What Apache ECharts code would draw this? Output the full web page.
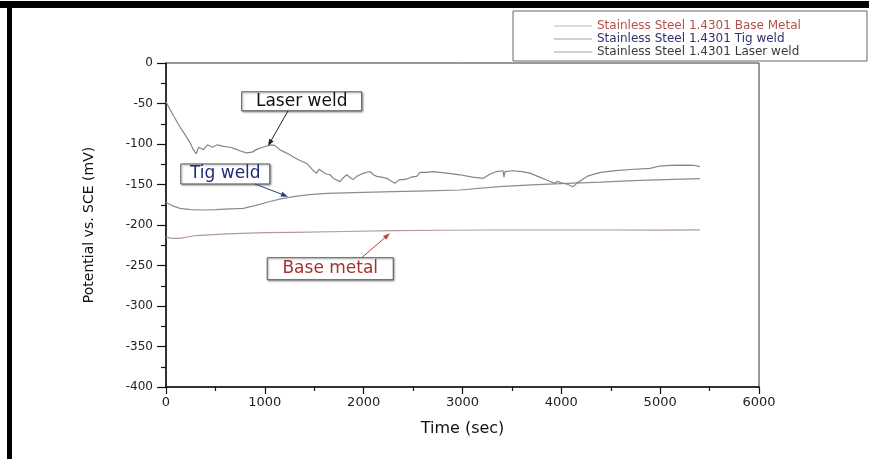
<!DOCTYPE html>
<html>
<head>
<meta charset="utf-8">
<script src="https://cdn.jsdelivr.net/npm/echarts@6/dist/echarts.min.js"></script>
<style>
html,body{margin:0;padding:0;background:#fff;}
#chart{width:869px;height:459px;}
</style>
</head>
<body>
<div id="chart"></div>
<script>
// ---- data (time in sec, potential in mV) ----
var seriesNames = ['Stainless Steel 1.4301 Base Metal', 'Stainless Steel 1.4301 Tig weld', 'Stainless Steel 1.4301 Laser weld'];

var baseTime = [0, 60, 142, 300, 614, 1000, 1288, 1800, 2300, 2800, 3312, 3900, 4492, 5000, 5402];
var baseValue = [-215, -216.5, -216.5, -213, -211, -209.5, -209, -208, -207, -206.5, -206.2, -206.2, -206.2, -206.4, -206];

var tigTime = [0, 60, 142, 250, 377, 500, 650, 782, 900, 1052, 1150, 1288, 1450, 1626, 2000, 2300, 2650, 2975, 3373, 3700, 4054, 4400, 4728, 5050, 5402];
var tigValue = [-172, -176, -179.4, -181, -181.5, -181, -180, -179.4, -176, -171, -168, -165, -162.5, -160.9, -159.8, -158.9, -157.8, -156.8, -152.7, -150.5, -148.5, -147, -145.3, -144, -142.8];

var laserTime = [0, 30, 80, 142, 200, 250, 276, 305, 330, 344, 380, 420, 470, 520, 580, 648, 700, 760, 816, 870, 930, 980, 1019, 1070, 1103, 1150, 1200, 1250, 1288, 1350, 1424, 1470, 1500, 1525, 1550, 1580, 1620, 1659, 1700, 1760, 1800, 1828, 1860, 1892, 1930, 1963, 2000, 2064, 2100, 2132, 2180, 2233, 2280, 2317, 2360, 2401, 2440, 2480, 2536, 2570, 2637, 2705, 2840, 2975, 3100, 3211, 3280, 3346, 3410, 3420, 3430, 3514, 3600, 3683, 3760, 3852, 3900, 3936, 3960, 4000, 4054, 4121, 4160, 4206, 4260, 4323, 4400, 4550, 4700, 4897, 4998, 5100, 5234, 5350, 5402];
var laserValue = [-48, -55, -66, -79, -90, -100, -107, -112, -104, -103, -107, -101, -104, -101, -103, -104, -106, -109, -111, -110, -106, -104, -102.5, -101, -102, -107, -110, -113, -116, -120, -124, -130, -134, -136, -131, -134, -137, -138, -143, -146.5, -141, -138, -141, -144, -140, -138, -136, -134, -138, -140, -141, -142.4, -146, -148.5, -144, -144, -143, -141, -140, -135, -135, -134, -136, -138, -141, -142.4, -137, -134, -133, -141, -134, -133, -134, -136, -140, -144.4, -147, -148.5, -146, -148, -149.4, -152.7, -148, -144.4, -140, -137.5, -135, -132.9, -131.5, -130, -127.2, -126.5, -126, -126.5, -128];

var xTicks = [0, 1000, 2000, 3000, 4000, 5000, 6000];
var yTicks = [0, -50, -100, -150, -200, -250, -300, -350, -400];

var annotationTexts = ['Laser weld', 'Tig weld', 'Base metal'];
// ---- end data ----

function pairs(t, v) { return t.map(function (x, i) { return [x, v[i]]; }); }

var FONT = 'DejaVu Sans';
var chart = echarts.init(document.getElementById('chart'), null, { renderer: 'canvas' });

var seriesColors = ['#b39c98', '#8c8c92', '#858585'];
var legendLineColors = ['#d0b2ae', '#a0a0a6', '#a4a4a4'];
var legendTextColors = ['#b3504b', '#2c3170', '#3a3a3a'];

var option = {
  animation: false,
  backgroundColor: '#ffffff',
  textStyle: { fontFamily: FONT },
  grid: { left: 166, right: 110, top: 63, bottom: 72, show: true, borderColor: '#333', borderWidth: 1, backgroundColor: 'transparent' },
  legend: {
    left: 549, top: 15, orient: 'vertical', itemWidth: 38, itemHeight: 1, itemGap: 1,
    selectedMode: false, icon: 'rect',
    textStyle: { fontFamily: FONT, fontSize: 12, lineHeight: 12 },
    data: seriesNames.map(function (n, i) {
      return { name: n, icon: 'rect', itemStyle: { color: legendLineColors[i] }, textStyle: { color: legendTextColors[i] } };
    })
  },
  xAxis: {
    type: 'value', min: xTicks[0], max: xTicks[xTicks.length - 1], interval: xTicks[1] - xTicks[0],
    name: 'Time (sec)', nameLocation: 'middle', nameGap: 34,
    nameTextStyle: { fontFamily: FONT, fontSize: 16, color: '#111' },
    axisLine: { show: true, onZero: false, lineStyle: { color: '#111', width: 1.5 } },
    axisTick: { show: true, inside: false, length: 7, lineStyle: { color: '#111', width: 1.2 } },
    minorTick: { show: true, splitNumber: 2, length: 4, lineStyle: { color: '#111', width: 1.2 } },
    axisLabel: { fontFamily: FONT, fontSize: 13, color: '#222', margin: 9, formatter: function (v) { return String(v); } },
    splitLine: { show: false }
  },
  yAxis: {
    type: 'value', min: yTicks[yTicks.length - 1], max: yTicks[0], interval: yTicks[0] - yTicks[1],
    name: 'Potential vs. SCE (mV)', nameLocation: 'middle', nameGap: 70, nameRotate: 90,
    nameTextStyle: { fontFamily: FONT, fontSize: 14, color: '#111' },
    axisLine: { show: true, onZero: false, lineStyle: { color: '#111', width: 1.5 } },
    axisTick: { show: true, inside: false, length: 9, lineStyle: { color: '#111', width: 1.2 } },
    minorTick: { show: true, splitNumber: 2, length: 5, lineStyle: { color: '#111', width: 1.2 } },
    axisLabel: { fontFamily: FONT, fontSize: 12, color: '#222', margin: 13, formatter: function (v) { return String(v); } },
    splitLine: { show: false }
  },
  series: [
    { name: seriesNames[0], type: 'line', data: pairs(baseTime, baseValue), symbol: 'none', showSymbol: false, lineStyle: { color: seriesColors[0], width: 1.2 }, itemStyle: { color: seriesColors[0] }, z: 3 },
    { name: seriesNames[1], type: 'line', data: pairs(tigTime, tigValue), symbol: 'none', showSymbol: false, lineStyle: { color: seriesColors[1], width: 1.2 }, itemStyle: { color: seriesColors[1] }, z: 3 },
    { name: seriesNames[2], type: 'line', data: pairs(laserTime, laserValue), symbol: 'none', showSymbol: false, lineStyle: { color: seriesColors[2], width: 1.2 }, itemStyle: { color: seriesColors[2] }, z: 3 }
  ]
};
chart.setOption(option);

// annotation layout (data coordinates) - not chart data
var annotations = [
  { text: annotationTexts[0], center: [1373, -47.3], w: 120, h: 19, from: [1234, -59.3], to: [1032, -102.5], color: '#111', arrow: '#222' },
  { text: annotationTexts[1], center: [600, -137], w: 89, h: 20, from: [900, -149.4], to: [1234, -165], color: '#1f2a7a', arrow: '#2a3a80' },
  { text: annotationTexts[2], center: [1662, -254], w: 126, h: 22, from: [1980, -240.4], to: [2266, -210.3], color: '#a3332e', arrow: '#b5443c' }
];

var graphics = [
  { type: 'rect', shape: { x: 0, y: 1, width: 869, height: 7 }, style: { fill: '#000' }, z: 100 },
  { type: 'rect', shape: { x: 7, y: 1, width: 5, height: 458 }, style: { fill: '#000' }, z: 100 },
  { type: 'rect', shape: { x: 513, y: 11, width: 354, height: 50 }, style: { fill: 'none', stroke: '#666', lineWidth: 1 }, z: 50 }
];

annotations.forEach(function (a) {
  var c = chart.convertToPixel({ gridIndex: 0 }, a.center);
  var p0 = chart.convertToPixel({ gridIndex: 0 }, a.from);
  var p1 = chart.convertToPixel({ gridIndex: 0 }, a.to);
  graphics.push({
    type: 'rect', shape: { x: c[0] - a.w / 2, y: c[1] - a.h / 2, width: a.w, height: a.h },
    style: { fill: '#fff', stroke: '#555', lineWidth: 1, shadowBlur: 2, shadowOffsetX: 1, shadowOffsetY: 1, shadowColor: 'rgba(0,0,0,0.35)' }, z: 60
  });
  graphics.push({
    type: 'text', x: c[0], y: c[1], z: 61,
    style: { text: a.text, fill: a.color, font: '17px "DejaVu Sans"', textAlign: 'center', textVerticalAlign: 'middle' }
  });
  var dx = p1[0] - p0[0], dy = p1[1] - p0[1];
  var len = Math.sqrt(dx * dx + dy * dy);
  var ux = dx / len, uy = dy / len;
  var hl = 7, hw = 2.5;
  var bx = p1[0] - ux * hl, by = p1[1] - uy * hl;
  graphics.push({ type: 'line', shape: { x1: p0[0], y1: p0[1], x2: bx, y2: by }, style: { stroke: a.arrow, lineWidth: 1 }, z: 62 });
  graphics.push({
    type: 'polygon', shape: { points: [[p1[0], p1[1]], [bx - uy * hw, by + ux * hw], [bx + uy * hw, by - ux * hw]] },
    style: { fill: a.arrow }, z: 62
  });
});

chart.setOption({ graphic: graphics });
</script>
</body>
</html>
